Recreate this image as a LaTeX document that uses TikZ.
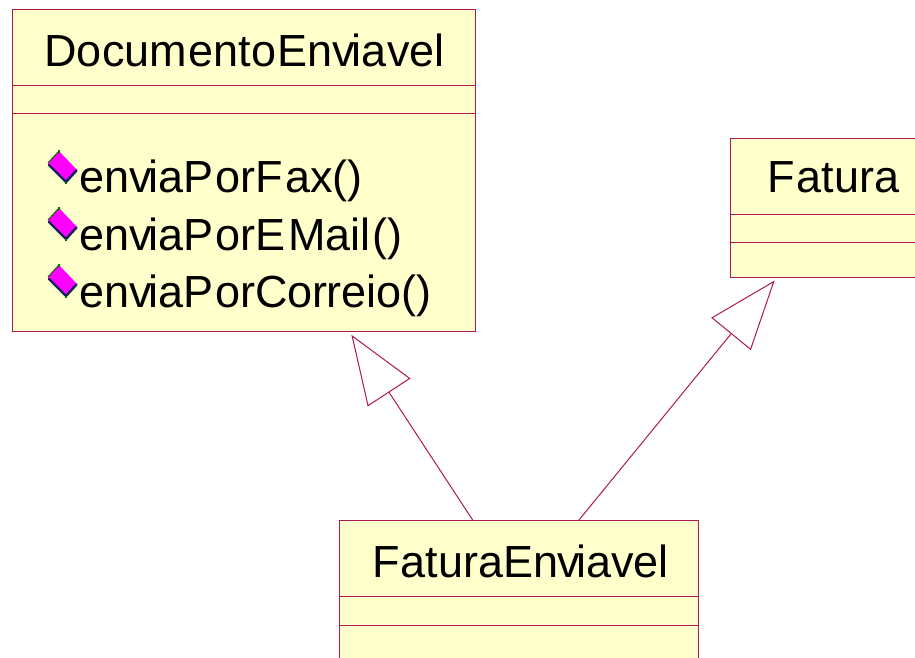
\documentclass[tikz,border=0pt]{standalone}
\usepackage{fontspec}
\setmainfont{Liberation Sans}
\usetikzlibrary{arrows.meta}
\definecolor{umlline}{HTML}{B01850}
\definecolor{umlfill}{HTML}{FFFFCC}
\definecolor{iconmag}{HTML}{FF00FF}
\definecolor{icondark}{HTML}{14205A}
\newcommand{\kvi}{\kern-3.5pt }
\tikzset{
  x=1pt,y=-1pt,
  classbox/.style={draw=umlline,fill=umlfill,line width=1pt,rectangle,outer sep=0pt,inner sep=0pt},
  divider/.style={draw=umlline,line width=1pt},
  label/.style={anchor=base west,inner sep=0pt,outer sep=0pt,text=black,font=\fontsize{45}{54}\selectfont},
  gen/.style={draw=umlline,line width=1pt,shorten >=4.5pt,-{Triangle[open,length=69pt,width=51pt,line width=1pt]}},
  iconface/.style={fill=iconmag,draw=none},
  iconedge/.style={draw=icondark,line width=2.4pt,line join=round,line cap=round},
  methodicon/.pic={
    \fill[iconface] (-13,-1) -- (-2,-13) -- (16,6) -- (5,18) -- cycle;
    \draw[iconedge] (-12,1) -- (5,18) -- (15.5,6.5);
    \draw[draw=black!60!green,line width=1pt] (-13,-1) -- (-2,-13);
    \fill[green!45!black] (-3,-14) rectangle (-1,-11);
    \fill[green!45!black] (4,18) rectangle (6,20);
  }
}
\begin{document}
\begin{tikzpicture}
\useasboundingbox (0,0) rectangle (915,657);
\fill[white] (0,0) rectangle (915,657);
\clip (0,0) rectangle (915,657);
% class boxes
\node[classbox,minimum width=462.5pt,minimum height=321.5pt] (doc) at (243.75,170.25) {};
\node[classbox,minimum width=207pt,minimum height=139pt] (fat) at (834,207.5) {};
\node[classbox,minimum width=359pt,minimum height=140pt] (fe) at (518.5,590) {};
% compartments
\draw[divider] (doc.west |- 0,85) -- (doc.east |- 0,85);
\draw[divider] (doc.west |- 0,113) -- (doc.east |- 0,113);
\draw[divider] (fat.west |- 0,214) -- (fat.east |- 0,214);
\draw[divider] (fat.west |- 0,242) -- (fat.east |- 0,242);
\draw[divider] (fe.west |- 0,596) -- (fe.east |- 0,596);
\draw[divider] (fe.west |- 0,625) -- (fe.east |- 0,625);
% labels
\node[label] (docname) at (44.5,66) {Docum\kern1.5pt ento\kern1pt Env\kvi ia\kern1pt vel};
\node[label] (fatname) at (767,192.5) {F\kern2pt atura};
\node[label] (fename) at (372,577) {F\kern1pt aturaEn\kern-1pt v\kvi iavel};
\node[label] (m1) at (79,192) {env\kvi iaP\kern2pt orF\kern2.5pt ax()};
\node[label] (m2) at (79,250) {env\kvi iaP\kern2pt orE\kern3pt Mail\kern2pt ()};
\node[label] (m3) at (79,307) {env\kvi iaP\kern2pt orC\kern-.5pt or\kern-.5pt re\kern-.5pt io()};
% icons
\pic at (61,164) {methodicon};
\pic at (61,221) {methodicon};
\pic at (61,278) {methodicon};
% generalisations
\coordinate (fatstart) at (579,520);
\draw[gen] (fe) -- (doc);
\draw[gen] (fatstart) -- (fat);
\end{tikzpicture}
\end{document}
